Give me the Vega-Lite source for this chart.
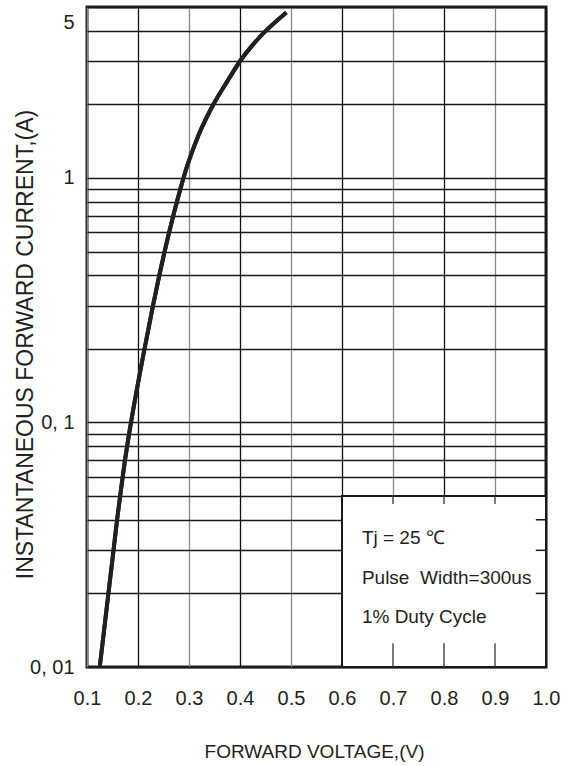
{
  "$schema": "https://vega.github.io/schema/vega-lite/v6.json",
  "autosize": "none",
  "width": 459,
  "height": 660,
  "padding": {"left": 87, "top": 7, "right": 33, "bottom": 99},
  "background": "white",
  "config": {
    "view": {"stroke": "#231f20", "strokeWidth": 3},
    "axis": {"labelColor": "#231f20", "titleColor": "#231f20"}
  },
  "datasets": {
    "curve": [
      {"v": 0.125, "i": 0.01},
      {"v": 0.142, "i": 0.02},
      {"v": 0.152, "i": 0.03},
      {"v": 0.159, "i": 0.04},
      {"v": 0.165, "i": 0.05},
      {"v": 0.170, "i": 0.06},
      {"v": 0.1745, "i": 0.07},
      {"v": 0.1787, "i": 0.08},
      {"v": 0.1826, "i": 0.09},
      {"v": 0.1863, "i": 0.1},
      {"v": 0.2128, "i": 0.2},
      {"v": 0.2293, "i": 0.3},
      {"v": 0.2418, "i": 0.4},
      {"v": 0.2522, "i": 0.5},
      {"v": 0.2611, "i": 0.6},
      {"v": 0.2691, "i": 0.7},
      {"v": 0.2764, "i": 0.8},
      {"v": 0.2830, "i": 0.9},
      {"v": 0.2892, "i": 1.0},
      {"v": 0.319, "i": 1.5},
      {"v": 0.348, "i": 2},
      {"v": 0.376, "i": 2.5},
      {"v": 0.400, "i": 3.0},
      {"v": 0.425, "i": 3.5},
      {"v": 0.451, "i": 4},
      {"v": 0.491, "i": 4.75}
    ],
    "box": [{"x1": 0.6, "x2": 1.0, "y1": 0.01, "y2": 0.05}],
    "vstubs": [
      {"x": 0.7, "y1": 0.05, "y2": 0.0464},
      {"x": 0.8, "y1": 0.05, "y2": 0.0464},
      {"x": 0.9, "y1": 0.05, "y2": 0.0464},
      {"x": 0.7, "y1": 0.01, "y2": 0.0125},
      {"x": 0.8, "y1": 0.01, "y2": 0.0125},
      {"x": 0.9, "y1": 0.01, "y2": 0.0125}
    ],
    "hstubs": [
      {"y": 0.04, "x1": 0.98, "x2": 1.0},
      {"y": 0.03, "x1": 0.98, "x2": 1.0},
      {"y": 0.02, "x1": 0.98, "x2": 1.0}
    ],
    "notes": [
      {"x": 0.639, "y": 0.0337, "t": "Tj = 25 ℃"},
      {"x": 0.639, "y": 0.0231, "t": "Pulse\u00a0 Width=300us"},
      {"x": 0.639, "y": 0.0160, "t": "1% Duty Cycle"}
    ]
  },
  "layer": [
    {
      "data": {"name": "curve"},
      "mark": {"type": "line", "color": "#231f20", "strokeWidth": 4, "interpolate": "monotone", "clip": true},
      "encoding": {
        "x": {
          "field": "v", "type": "quantitative",
          "scale": {"domain": [0.1, 1.0], "nice": false, "zero": false},
          "axis": {
            "values": [0.1, 0.2, 0.3, 0.4, 0.5, 0.6, 0.7, 0.8, 0.9, 1.0],
            "format": ".1f",
            "grid": true,
            "gridColor": {"condition": {"test": "round(datum.value*10) % 2 == 0", "value": "#111111"}, "value": "#888888"},
            "gridWidth": 1.3,
            "domain": false,
            "ticks": false,
            "labelFont": "Liberation Sans, Arial, sans-serif",
            "labelFontSize": 20,
            "labelBaseline": "middle",
            "labelPadding": 31,
            "labelFlush": false,
            "title": "FORWARD VOLTAGE,(V)",
            "titleFont": "Liberation Sans, Arial, sans-serif",
            "titleFontSize": 19,
            "titleFontWeight": "normal",
            "titleX": 227,
            "titleY": 90,
            "titleBaseline": "alphabetic"
          }
        },
        "y": {
          "field": "i", "type": "quantitative",
          "scale": {"type": "log", "domain": [0.01, 5], "nice": false},
          "axis": {
            "values": [0.01, 0.02, 0.03, 0.04, 0.05, 0.06, 0.07, 0.08, 0.09, 0.1, 0.2, 0.3, 0.4, 0.5, 0.6, 0.7, 0.8, 0.9, 1, 2, 3, 4, 5],
            "labelExpr": "datum.value == 0.01 ? '0, 01' : datum.value == 0.1 ? '0, 1' : datum.value == 1 ? '1' : datum.value == 5 ? '5' : ''",
            "grid": true,
            "gridColor": "#1a1a1a",
            "gridWidth": 1.3,
            "domain": false,
            "ticks": false,
            "labelFont": "Liberation Sans, Arial, sans-serif",
            "labelFontSize": 20,
            "labelPadding": 13,
            "labelFlush": false,
            "labelOverlap": false,
            "labelOffset": {"condition": {"test": "datum.value == 5", "value": 15}, "value": 0},
            "title": "INSTANTANEOUS FORWARD CURRENT,(A)",
            "titleFont": "Liberation Sans, Arial, sans-serif",
            "titleFontSize": 23,
            "titleFontWeight": "normal",
            "titleX": -62,
            "titleY": 337,
            "titleAlign": "center",
            "titleBaseline": "middle"
          }
        }
      }
    },
    {
      "data": {"name": "box"},
      "mark": {"type": "rect", "fill": "white", "stroke": "#1a1a1a", "strokeWidth": 2},
      "encoding": {
        "x": {"field": "x1", "type": "quantitative"},
        "x2": {"field": "x2"},
        "y": {"field": "y1", "type": "quantitative"},
        "y2": {"field": "y2"}
      }
    },
    {
      "data": {"name": "vstubs"},
      "mark": {"type": "rule", "color": "#333333", "strokeWidth": 1.3},
      "encoding": {
        "x": {"field": "x", "type": "quantitative"},
        "y": {"field": "y1", "type": "quantitative"},
        "y2": {"field": "y2"}
      }
    },
    {
      "data": {"name": "hstubs"},
      "mark": {"type": "rule", "color": "#1a1a1a", "strokeWidth": 1.5},
      "encoding": {
        "y": {"field": "y", "type": "quantitative"},
        "x": {"field": "x1", "type": "quantitative"},
        "x2": {"field": "x2"}
      }
    },
    {
      "data": {"name": "notes"},
      "mark": {"type": "text", "align": "left", "baseline": "middle", "font": "Liberation Sans, Arial, sans-serif", "fontSize": 19, "color": "#231f20"},
      "encoding": {
        "x": {"field": "x", "type": "quantitative"},
        "y": {"field": "y", "type": "quantitative"},
        "text": {"field": "t"}
      }
    },
    {
      "data": {"name": "curve"},
      "mark": {"type": "line", "color": "#231f20", "strokeWidth": 4, "interpolate": "monotone"},
      "encoding": {
        "x": {"field": "v", "type": "quantitative"},
        "y": {"field": "i", "type": "quantitative"}
      }
    }
  ]
}
